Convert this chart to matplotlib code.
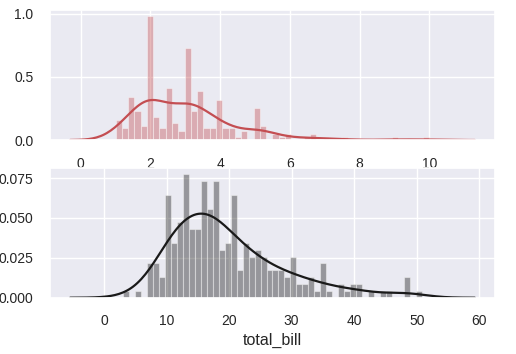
import numpy as np
import matplotlib
matplotlib.use("Agg")
import matplotlib.pyplot as plt
import seaborn as sns

# tip: 50 equal bins between smallest and largest tip, counts read per bin
tip_range = (1.0, 10.0)
tip_counts = [7, 4, 15, 10, 5, 43, 8, 4, 18, 6,
              3, 32, 10, 17, 4, 4, 14, 4, 4, 1,
              3, 0, 11, 5, 0, 2, 1, 2, 0, 0,
              1, 2, 0, 1, 0, 0, 1, 0, 0, 0,
              0, 0, 0, 0, 1, 0, 0, 0, 0, 1]

# total_bill: 50 equal bins between smallest and largest bill
bill_range = (3.07, 50.81)
bill_counts = [1, 0, 1, 0, 5, 5, 3, 15, 8, 11,
               18, 10, 10, 17, 13, 17, 7, 8, 15, 4,
               8, 6, 7, 6, 4, 4, 4, 3, 6, 2,
               2, 3, 1, 5, 1, 0, 2, 1, 2, 2,
               0, 1, 0, 1, 1, 0, 0, 3, 0, 1]

sns.set_theme(style="darkgrid")
plt.rcParams['font.family'] = ['Liberation Sans', 'DejaVu Sans']
plt.rcParams['xtick.major.pad'] = 6
plt.rcParams['ytick.major.pad'] = 6
plt.rcParams['xtick.labelsize'] = 10
plt.rcParams['ytick.labelsize'] = 10
plt.rcParams['axes.labelsize'] = 11.5


def dist(ax, lo_hi, counts, color):
    edges = np.linspace(lo_hi[0], lo_hi[1], len(counts) + 1)
    centers = (edges[:-1] + edges[1:]) / 2
    ax.hist(centers, bins=edges, weights=counts, density=True,
            color=color, alpha=0.4, edgecolor='w', linewidth=0.8)
    sns.kdeplot(x=np.repeat(centers, counts), ax=ax, color=color, lw=1.6, cut=3)
    ax.set_ylabel("")
    ax.set_xlabel("")


fig = plt.figure(figsize=(5.16, 3.54), dpi=100)
ax1 = fig.add_axes([0.0969, 0.6045, 0.8624, 0.3673])
ax2 = fig.add_axes([0.0969, 0.159, 0.8624, 0.3656])

dist(ax1, tip_range, tip_counts, "#C44E52")
dist(ax2, bill_range, bill_counts, "k")
ax2.set_xlabel("total_bill", labelpad=3)

fig.savefig("out.png", dpi=100)
